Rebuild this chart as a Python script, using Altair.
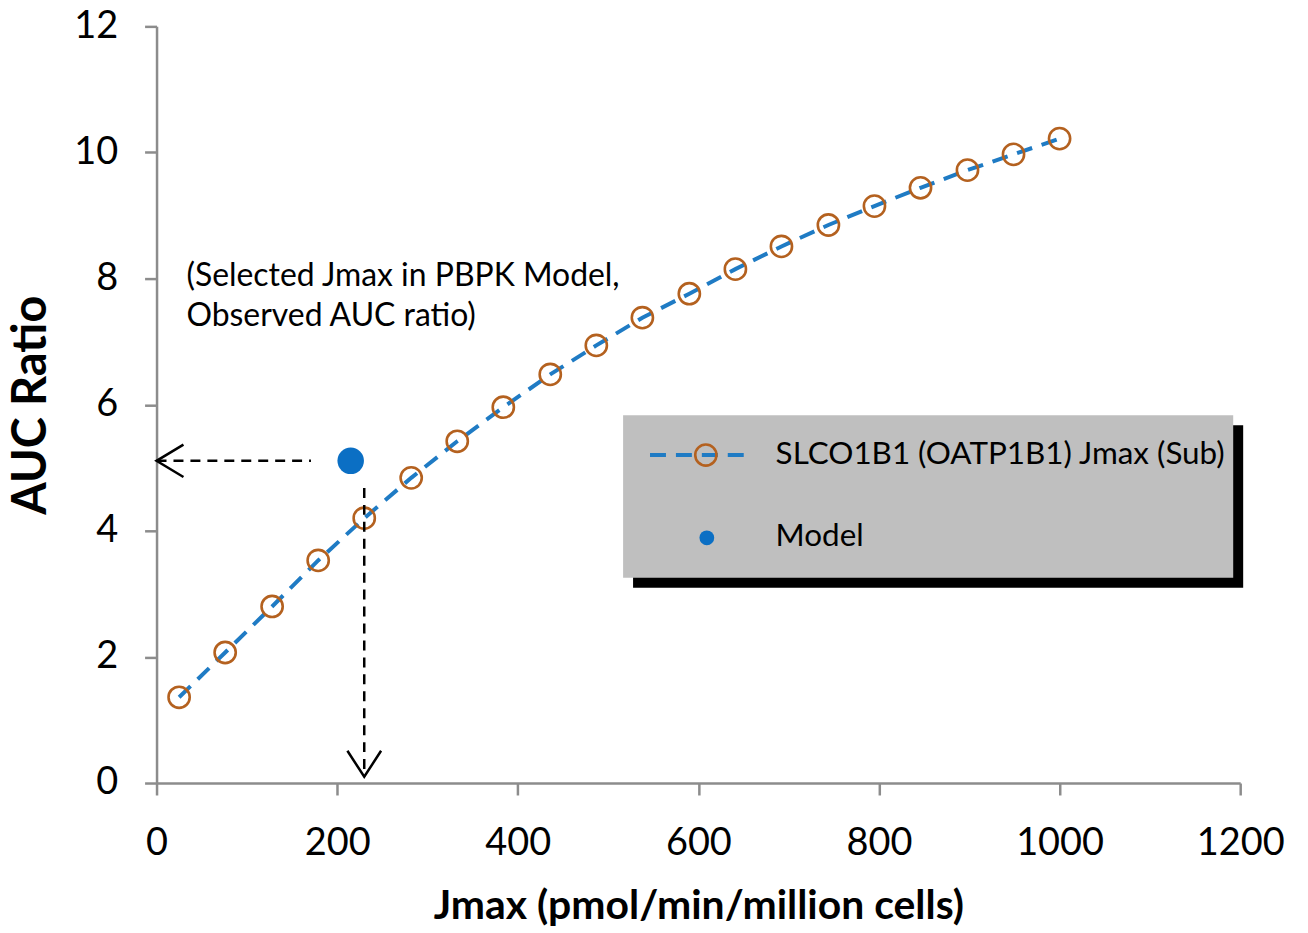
import altair as alt
import pandas as pd

# ---- data ----
jmax = [25, 76, 128, 179, 230, 282, 333, 384, 436, 487, 538, 590, 641, 692, 744, 795, 846, 898, 949, 1000]
auc_ratio = [1.36, 2.07, 2.80, 3.53, 4.20, 4.84, 5.42, 5.96, 6.48, 6.94, 7.38, 7.76, 8.15, 8.51, 8.85, 9.15, 9.44, 9.72, 9.97, 10.22]
model_jmax = [215]
model_auc = [5.11]
selected_jmax = 230
x_ticks = [0, 200, 400, 600, 800, 1000, 1200]
y_ticks = [0, 2, 4, 6, 8, 10, 12]
series_label = "SLCO1B1 (OATP1B1) Jmax (Sub)"
model_label = "Model"
note_lines = ["(Selected Jmax in PBPK Model,", "Observed AUC ratio)"]

FONT = "Lato"
AXIS_GRAY = "#8c8c8c"
BLUE = "#1f7bc4"
BROWN = "#b4611f"
DOT = "#0b6fc4"

df = pd.DataFrame({"jmax": jmax, "auc": auc_ratio})
model_df = pd.DataFrame({"jmax": model_jmax, "auc": model_auc})
one = pd.DataFrame({"k": [0]})

xscale = alt.Scale(domain=[0, 1200], nice=False, zero=False)
yscale = alt.Scale(domain=[0, 12], nice=False)

x_axis = alt.Axis(values=x_ticks, format="d", title="Jmax (pmol/min/million cells)", labelPadding=30,
                  titleY=136, titleBaseline="alphabetic", titleFontSize=41)
y_axis = alt.Axis(values=y_ticks, format="d", title="AUC Ratio", labelPadding=27,
                  titleX=-111, titleY=379.5, titleAngle=270, titleAlign="center",
                  titleBaseline="alphabetic", titleFontSize=47)

X = alt.X("jmax:Q", scale=xscale, axis=x_axis)
Y = alt.Y("auc:Q", scale=yscale, axis=y_axis)

line = alt.Chart(df).mark_line(color=BLUE, strokeWidth=4, strokeDash=[16, 10]).encode(x=X, y=Y)
circles = alt.Chart(df).mark_point(shape="circle", filled=False, color=BROWN, size=452,
                                   strokeWidth=2.6, opacity=1).encode(x=X, y=Y)
model = alt.Chart(model_df).mark_point(shape="circle", filled=True, color=DOT, size=707,
                                       opacity=1).encode(x=X, y=Y)

# dashed guide arrows
h_arrow_df = pd.DataFrame({"x1": [0], "x2": [171], "y": model_auc})
h_arrow = alt.Chart(h_arrow_df).mark_rule(color="black", strokeWidth=2.5, strokeDash=[10, 7]).encode(
    x=alt.X("x1:Q", scale=xscale), x2="x2:Q", y=alt.Y("y:Q", scale=yscale))
v_arrow_df = pd.DataFrame({"x": [selected_jmax], "y1": [4.68], "y2": [0.1]})
v_arrow = alt.Chart(v_arrow_df).mark_rule(color="black", strokeWidth=2.5, strokeDash=[10, 7]).encode(
    x=alt.X("x:Q", scale=xscale), y=alt.Y("y1:Q", scale=yscale), y2="y2:Q")
h_head = alt.Chart(pd.DataFrame({"x": [0], "y": model_auc})).mark_point(
    shape="M1,-0.6L0,0L1,0.6", filled=False, color="black", size=2916, strokeWidth=2.5, opacity=1
).encode(x=alt.X("x:Q", scale=xscale), y=alt.Y("y:Q", scale=yscale))
v_head = alt.Chart(pd.DataFrame({"x": [selected_jmax], "y": [0.1]})).mark_point(
    shape="M-0.65,-1L0,0L0.65,-1", filled=False, color="black", size=2704, strokeWidth=2.5, opacity=1
).encode(x=alt.X("x:Q", scale=xscale), y=alt.Y("y:Q", scale=yscale))

note = alt.Chart(one).mark_text(align="left", baseline="middle", font=FONT, fontSize=32,
                                color="black", lineHeight=41).encode(
    x=alt.value(30), y=alt.value(250), text=alt.value(note_lines))

# legend drawn by hand
leg_shadow = alt.Chart(one).mark_rect(color="black").encode(
    x=alt.value(478), x2=alt.value(1090), y=alt.value(400), y2=alt.value(563))
leg_box = alt.Chart(one).mark_rect(color="#bfbfbf").encode(
    x=alt.value(468), x2=alt.value(1080), y=alt.value(390), y2=alt.value(553))
leg_line = alt.Chart(one).mark_rule(color=BLUE, strokeWidth=4, strokeDash=[16, 10]).encode(
    x=alt.value(495), x2=alt.value(590), y=alt.value(430))
leg_circle = alt.Chart(one).mark_point(shape="circle", filled=False, color=BROWN, size=452,
                                       strokeWidth=2.6, opacity=1).encode(
    x=alt.value(551), y=alt.value(430))
leg_dot = alt.Chart(one).mark_point(shape="circle", filled=True, color=DOT, size=220, opacity=1).encode(
    x=alt.value(552), y=alt.value(513))
leg_t1 = alt.Chart(one).mark_text(align="left", baseline="middle", font=FONT, fontSize=31.5, color="black").encode(
    x=alt.value(621), y=alt.value(430), text=alt.value(series_label))
leg_t2 = alt.Chart(one).mark_text(align="left", baseline="middle", font=FONT, fontSize=31.5, color="black").encode(
    x=alt.value(621), y=alt.value(512), text=alt.value(model_label))

chart = alt.layer(
    line, circles, h_arrow, v_arrow, h_head, v_head, model, note,
    leg_shadow, leg_box, leg_line, leg_circle, leg_dot, leg_t1, leg_t2
).properties(
    width=1087, height=759,
    autosize=alt.AutoSizeParams(type="none"),
    padding={"left": 149, "top": 17, "right": 60, "bottom": 146},
).configure_view(stroke=None).configure_axis(
    grid=False, domainColor=AXIS_GRAY, domainWidth=2.5, tickColor=AXIS_GRAY, tickWidth=2.5,
    tickSize=12, labelFont=FONT, labelFontSize=38, labelColor="black",
    titleFont=FONT, titleFontWeight="bold", titleColor="black", labelFlush=False,
    labelOverlap=False,
)

chart.save("out.html", embed_options={"renderer": "svg", "actions": False})
